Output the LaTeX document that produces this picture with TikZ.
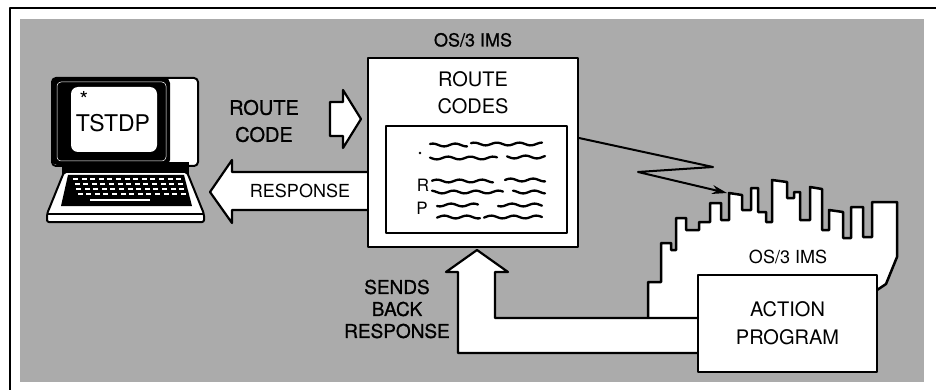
\documentclass[tikz,border=0pt]{standalone}
\usepackage{fontspec}
\setmainfont{TeX Gyre Heros}
\newfontfamily\heavy[FakeBold=0.9]{TeX Gyre Heros}
\usepackage{tikz}
\usetikzlibrary{positioning,arrows.meta}

% one wavy line of "text" in the listing
\newcommand{\wig}[3]{\draw[squig] plot[domain=#1:#2,samples=30,smooth] (\x,{#3+1.4*sin((\x-#1)*16+#3*9)});}

\begin{document}
\begin{tikzpicture}
	[x=1pt,y=-1pt,line join=round,
	 box/.style={draw,fill=white,line width=2pt,inner sep=0pt},
	 lbl/.style={font=\fontsize{20}{27}\selectfont,align=center,inner sep=0pt},
	 small/.style={font=\fontsize{18}{20}\selectfont,inner sep=0pt},
	 onground/.style={font=\heavy\fontsize{20}{27}\selectfont,align=center,inner sep=0pt},
	 hollow/.style={draw,fill=white,line width=2.2pt},
	 squig/.style={line width=2.3pt,line cap=round},
	 zig/.style={line width=2pt,-{Stealth[length=15pt,width=9pt]}}]
	\useasboundingbox (0,0) rectangle (936,390);
	% shaded ground and frame
	\fill[black!33] (20,19) rectangle (924,382);
	\draw[line width=2pt] (10,390) -- (10,8) -- (936,8);

	% terminal
	\draw[fill=white,line width=2pt,rounded corners=4pt] (52,78) rectangle (198,166);
	\fill[rounded corners=5pt] (52,78) rectangle (170,165);
	\fill[white,rounded corners=7pt] (71,87) rectangle (157,152);
	\draw[white,line width=0.5pt,rounded corners=4pt] (57,82) rectangle (166,161);
	\node[font=\fontsize{22}{22}\selectfont,inner sep=0pt] (star) at (84,99) {*};
	\node[font=\fontsize{23}{23}\selectfont,inner sep=0pt] (tstdp) at (113,123) {TSTDP};
	\fill (62,162) rectangle (189,176);
	\draw[fill=white,line width=2pt,rounded corners=2pt]
		(64,172) -- (187,172) -- (204,214) -- (204,222) -- (47,222) -- (47,214) -- cycle;
	\draw[line width=1.5pt] (47,214) -- (204,214);
	\fill (68,175) -- (184,175) -- (192,206) -- (61,206) -- cycle;
	\foreach \r in {0,...,3}
		\foreach \k in {0,...,12}
			\fill[white] ({73+\r*1.5+\k*8.6},{180+\r*5}) rectangle +(5,-1.6);
	\fill[white] (90,201) rectangle (150,199);

	\node[onground] (rc) at (264,121) {ROUTE\\CODE};

	% route code going in
	\draw[hollow] (330,102) -- (343,102) -- (343,90) -- (361,119)
		-- (343,148) -- (343,136) -- (330,136) -- cycle;

	% response back to the terminal
	\draw[hollow] (372,172) -- (232,172) -- (232,160) -- (210,192)
		-- (232,223) -- (232,210) -- (372,210);
	\node[small] (resp) at (300,191) {RESPONSE};

	% host with the route code table
	\node[box,minimum width=210pt,minimum height=189pt] (codes) at (473,152.5) {};
	\node[onground,font=\heavy\fontsize{18}{20}\selectfont,above=10pt of codes] (ims) {OS/3 IMS};
	\node[lbl] (title) at (473,93) {ROUTE\\CODES};
	\node[box,minimum width=181pt,minimum height=107pt] (list) at (476.5,179.5) {};
	\fill (420,153) circle (1.3pt);
	\node[font=\fontsize{17}{17}\selectfont,inner sep=0pt] (r) at (423,185) {R};
	\node[font=\fontsize{17}{17}\selectfont,inner sep=0pt] (p) at (422,208) {P};
	\wig{430}{467}{145} \wig{471}{542}{144}
	\wig{430}{497}{158} \wig{507}{545}{157}
	\wig{432}{493}{181} \wig{505}{545}{180}
	\wig{432}{503}{192} \wig{513}{545}{192}
	\wig{437}{478}{205} \wig{498}{542}{205}
	\wig{437}{480}{217} \wig{484}{542}{217}

	% link over to the second system
	\coordinate (bend1) at (713,167);
	\coordinate (bend2) at (638,172);
	\coordinate (hit) at (727,193);
	\draw[zig] ([yshift=14.5pt]codes.east) -- (bend1) -- (bend2) -- (hit);

	% skyline
	\filldraw[fill=white,line width=2.5pt]
		(648,318) -- (648,282) -- (661,282) -- (661,243) -- (671,243) -- (671,250)
		-- (676,250) -- (676,218) -- (686,218) -- (686,230) -- (699,230) -- (699,222)
		-- (710,222) -- (710,203) -- (721,203) -- (721,220) -- (729,220) -- (729,193)
		-- (742,195) -- (742,210) -- (751,210) -- (751,188) -- (758,188) -- (758,212)
		-- (766,212) -- (766,222) -- (772,222) -- (772,180) -- (787,182) -- (787,198)
		-- (794,198) -- (794,192) -- (800,192) -- (800,220) -- (810,220) -- (810,187)
		-- (822,189) -- (822,230) -- (829,230) -- (829,210) -- (843,212) -- (843,238)
		-- (851,238) -- (851,207) -- (863,207) -- (863,237) -- (872,237) -- (872,202)
		-- (897,202) -- (897,257) -- (886,284) -- (877,290);
	\fill[white] (650,290) rectangle (878,318);
	\node[small] (ims2) at (788,257) {OS/3 IMS};

	% response sent back up
	\draw[hollow] (700,318) -- (495,318) -- (495,272) -- (508,272) -- (477,250)
		-- (446,272) -- (458,272) -- (458,353) -- (700,353);
	\node[box,minimum width=179pt,minimum height=97pt] (action) at (787.5,323.5) {};
	\node[lbl,font=\fontsize{20}{28}\selectfont] (actext) at (action) {ACTION\\PROGRAM};
	\node[onground,font=\heavy\fontsize{19}{22}\selectfont] (sends) at (397,309) {SENDS\\BACK\\RESPONSE};
\end{tikzpicture}
\end{document}
